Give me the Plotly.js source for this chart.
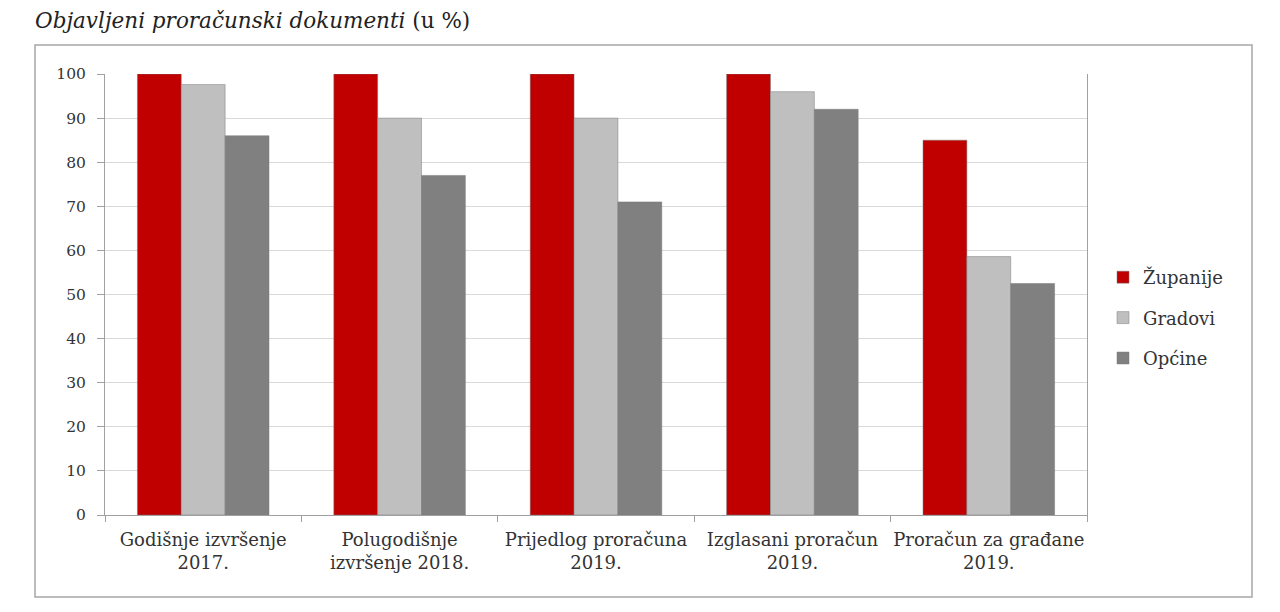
<!DOCTYPE html>
<html>
<head>
<meta charset="utf-8">
<script src="https://cdn.plot.ly/plotly-3.0.1.min.js"></script>
<style>html,body{margin:0;padding:0;background:#fff;}#chart{width:1280px;height:612px;}</style>
</head>
<body>
<div id="chart"></div>
<script>
const categories = ["Godišnje izvršenje<br>2017.", "Polugodišnje<br>izvršenje 2018.", "Prijedlog proračuna<br>2019.", "Izglasani proračun<br>2019.", "Proračun za građane<br>2019."];
const seriesNames = ["Županije", "Gradovi", "Općine"];
const zupanije = [100, 100, 100, 100, 85];
const gradovi = [97.6, 90, 90, 96, 58.6];
const opcine = [86, 77, 71, 92, 52.5];
const yTicks = [0, 10, 20, 30, 40, 50, 60, 70, 80, 90, 100];
const colors = ["#C00000", "#BFBFBF", "#808080"];
const values = [zupanije, gradovi, opcine];

const serif = "'DejaVu Serif', 'Liberation Serif', serif";
const traces = values.map((v, i) => ({
  type: "bar",
  name: seriesNames[i],
  legendgroup: "g" + i,
  x: categories,
  y: v,
  marker: {color: colors[i], line: {color: "rgba(120,120,120,0.6)", width: 0.8}},
  hoverinfo: "x+y+name"
}));

const L = 105, R = 1087, T = 74, B = 515, W = 1280, H = 612;
const pw = R - L, ph = B - T;
const px = x => (x - L) / pw;
const py = y => (B - y) / ph;

const layout = {
  width: W, height: H,
  margin: {l: L, r: W - R, t: T, b: H - B},
  paper_bgcolor: "#fff",
  plot_bgcolor: "#fff",
  barmode: "group",
  bargap: 0.33,
  bargroupgap: 0,
  showlegend: true,
  title: {
    text: "<i>Objavljeni proračunski dokumenti</i> (u %)",
    x: 35 / W, xanchor: "left", xref: "container",
    y: 1 - 20 / H, yanchor: "middle", yref: "container",
    font: {family: serif, size: 21.5, color: "#222"}
  },
  font: {family: serif, color: "#333"},
  xaxis: {
    type: "category",
    tickangle: 0,
    tickfont: {family: serif, size: 18, color: "#333"},
    showline: true, linecolor: "#a0a0a0", linewidth: 1,
    ticks: "outside", tickson: "boundaries", ticklen: 6, tickcolor: "#a0a0a0",
    ticklabelstandoff: 8,
    showgrid: false
  },
  yaxis: {
    range: [0, 100],
    tickvals: yTicks,
    ticktext: yTicks.map(String),
    tickfont: {family: serif, size: 15.5, color: "#333"},
    showgrid: true, gridcolor: "#d9d9d9", gridwidth: 1,
    showline: true, linecolor: "#a0a0a0", linewidth: 1, mirror: true,
    ticks: "outside", ticklen: 7, tickcolor: "#a0a0a0",
    ticklabelstandoff: 8,
    zeroline: false, fixedrange: true
  },
  legend: {
    x: px(1103), xanchor: "left",
    y: py(318), yanchor: "middle",
    font: {family: serif, size: 18, color: "#333"},
    traceorder: "grouped",
    tracegroupgap: 14,
    itemwidth: 30,
    bgcolor: "rgba(0,0,0,0)"
  },
  shapes: [{
    type: "rect", xref: "paper", yref: "paper",
    x0: px(35), x1: px(1252), y0: py(597), y1: py(45),
    line: {color: "#a6a6a6", width: 1.5}, fillcolor: "rgba(0,0,0,0)", layer: "below"
  }]
};

Plotly.newPlot("chart", traces, layout, {displayModeBar: false, staticPlot: true});
</script>
</body>
</html>
